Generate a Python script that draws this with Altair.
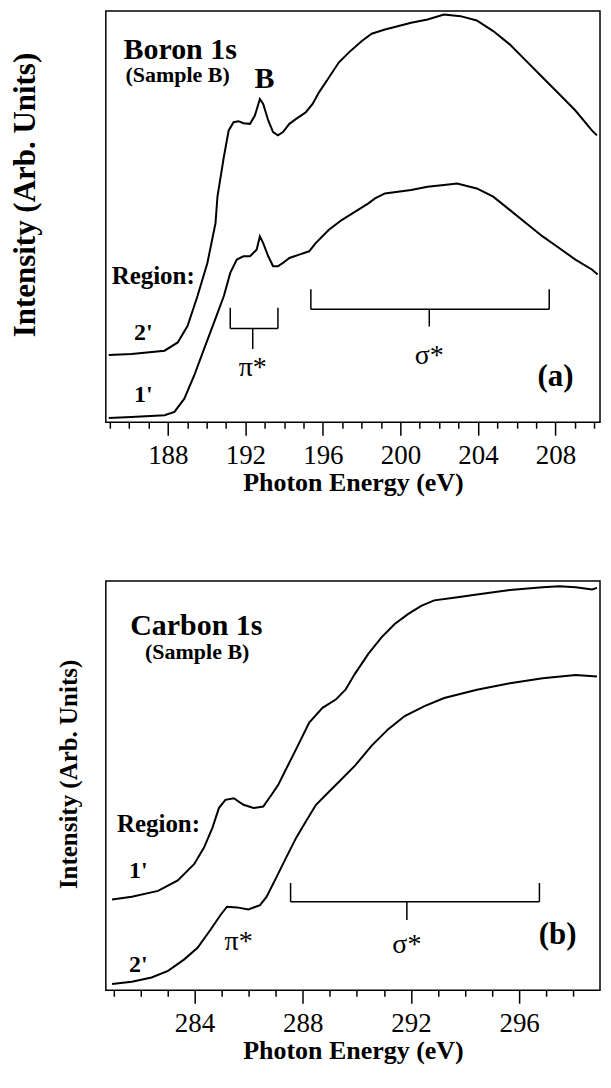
import altair as alt
import pandas as pd

SERIF = "Liberation Serif"

# ---------------- Panel (a): Boron 1s ----------------
b_reg2_energy = [184.95, 186.13, 187.83, 188.51, 189.02, 189.53, 190.04, 190.46, 190.56, 190.89,
                 191.14, 191.39, 191.65, 191.90, 192.24, 192.49, 192.75, 192.92, 193.18, 193.43,
                 193.68, 193.94, 194.27, 194.62, 195.12, 195.47, 195.80, 196.31, 196.82, 197.33,
                 198.01, 198.52, 199.20, 199.71, 200.55, 201.40, 202.25, 203.10, 203.94, 204.79,
                 205.64, 206.49, 207.34, 208.19, 209.03, 209.88, 210.14]
b_reg2_intensity = [67.7, 68.7, 72, 80.3, 97, 127, 160.3, 200.3, 227, 267,
                    293.7, 302, 303, 301, 300.3, 308.7, 325.3, 320.3, 303.7, 292,
                    288.7, 292, 300.3, 305.3, 312, 320.3, 332, 347, 362, 372,
                    383.7, 391, 395.3, 397.7, 402, 405.3, 410.3, 408.7, 404.3, 393.7,
                    380.3, 363.7, 347, 330.3, 313.7, 293.7, 288.7]
b_reg1_energy = [184.95, 186.13, 187.83, 188.34, 188.85, 189.36, 189.87, 190.38, 190.89, 191.22,
                 191.56, 191.90, 192.24, 192.58, 192.75, 192.92, 193.18, 193.43, 193.68, 193.94,
                 194.27, 194.78, 195.29, 195.63, 196.31, 196.99, 197.67, 198.35, 198.69, 199.20,
                 200.55, 201.40, 202.25, 202.93, 203.94, 204.79, 205.64, 206.49, 207.34, 208.19,
                 209.03, 209.88, 210.18]
b_reg1_intensity = [4.3, 5.3, 7, 10.3, 23.7, 47, 73.7, 100.3, 127, 150.3,
                    163.7, 167, 167, 173.7, 187, 180.3, 167, 157, 157, 160.3,
                    165.3, 168.7, 172, 180.3, 193.7, 203.7, 212, 220.3, 225.3, 230.3,
                    233.7, 237, 238.7, 240.3, 235.3, 227, 213.7, 200.3, 187, 175.3,
                    163.7, 153.7, 148.7]
b_domain = [184.8, 210.3]
b_ticks = [185.0 + 0.5 * i for i in range(51)]

# ---------------- Panel (b): Carbon 1s ----------------
c_reg1_energy = [280.95, 281.68, 282.65, 283.38, 283.99, 284.35, 284.66, 284.90, 285.14, 285.45,
                 285.81, 286.18, 286.54, 286.84, 287.09, 287.27, 287.76, 288.24, 288.73, 289.22,
                 289.58, 289.94, 290.43, 290.92, 291.40, 291.89, 292.38, 292.86, 293.59, 294.44,
                 295.66, 296.87, 297.48, 298.09, 298.70, 298.88]
c_reg1_intensity = [92, 94.7, 100.7, 111.3, 128, 144.7, 164.7, 184.7, 193, 194.7,
                    188, 184.7, 186.3, 198, 208, 218, 244.7, 271.3, 286.3, 294.7,
                    304.7, 321.3, 341.3, 358, 371.3, 381.3, 389.7, 395.3, 398, 401.3,
                    405.7, 408.7, 409.7, 408.7, 406.3, 408]
c_reg2_energy = [280.95, 281.68, 282.41, 283.02, 283.62, 284.11, 284.59, 284.96, 285.20, 285.57,
                 285.99, 286.42, 286.66, 287.03, 287.39, 287.76, 288.12, 288.49, 288.97, 289.34,
                 289.94, 290.55, 291.16, 291.77, 292.50, 293.23, 294.44, 295.66, 296.87, 298.09,
                 298.88]
c_reg2_intensity = [6.3, 8.7, 13, 19.7, 31.3, 43, 61.3, 76.3, 84.7, 84,
                    82, 86.3, 94.7, 114.7, 134.7, 154.7, 171.3, 188, 201.3, 211.3,
                    228, 248, 264.7, 278, 288, 296.3, 304.7, 311.3, 316.3, 319.7,
                    318]
c_domain = [280.72, 298.99]
c_ticks = [281.0 + 0.5 * i for i in range(36)]

# brackets: left, right, stem, bar level, arm top, stem bottom
b_pi_bracket = [191.22, 193.68, 192.38, 94.3, 115.3, 73.7]
b_sigma_bracket = [195.38, 207.68, 201.49, 113.7, 133.7, 96.3]
c_sigma_bracket = [287.55, 296.75, 291.85, 89.7, 108.7, 71.3]

# annotations: (text, energy, intensity)
b_big = [("Boron 1s", 185.71, 375)]
b_sample = [("(Sample B)", 185.81, 349)]
b_peak = [("B", 192.99, 345)]
b_region = [("Region:", 185.10, 147)]
b_labels = [("2'", 186.73, 90), ("1'", 186.73, 27)]
b_orbitals = [("π*", 192.38, 55), ("σ*", 201.49, 67)]
b_panel = [("(a)", 208.0, 45)]

c_big = [("Carbon 1s", 281.62, 369)]
c_sample = [("(Sample B)", 282.17, 343)]
c_region = [("Region:", 281.13, 169)]
c_labels = [("1'", 281.92, 121), ("2'", 281.92, 26)]
c_orbitals = [("π*", 285.63, 49), ("σ*", 291.85, 46.3)]
c_panel = [("(b)", 297.42, 56.3)]

y_title = "Intensity (Arb. Units)"
x_title = "Photon Energy (eV)"


def bracket_df(b):
    left, right, stem, bar, top, bottom = b
    return pd.DataFrame([
        dict(e=left, e2=right, i=bar, i2=bar),
        dict(e=left, e2=left, i=bar, i2=top),
        dict(e=right, e2=right, i=bar, i2=top),
        dict(e=stem, e2=stem, i=bar, i2=bottom),
    ])


def text_layer(items, size, weight, align):
    df = pd.DataFrame(items, columns=["label", "energy", "intensity"])
    return alt.Chart(df).mark_text(
        font=SERIF, fontSize=size, fontWeight=weight, align=align,
        baseline="middle", color="black"
    ).encode(x="energy:Q", y="intensity:Q", text="label:N")


def panel(curves, domain, ticks, ydom, width, height, ytitle_size, ytitle_x, ytitle_top,
          brackets, texts):
    rows = []
    for name, es, ins in curves:
        for e, v in zip(es, ins):
            rows.append(dict(region=name, energy=e, intensity=v))
    df = pd.DataFrame(rows)
    xaxis = alt.Axis(
        values=ticks, tickCount=len(ticks) + 5, format="d",
        tickSize={"condition": {"test": "datum.value % 4 === 0", "value": 13}, "value": 6},
        tickColor="black", tickWidth=1.5,
        labelExpr="datum.value % 4 === 0 ? datum.label : ''",
        labelFont=SERIF, labelFontSize=27, labelColor="black",
        labelPadding=7, labelOverlap=False, labelFlush=False,
        domain=False, grid=False,
        title=x_title, titleFont=SERIF, titleFontSize=26,
        titleFontWeight="bold", titleColor="black", titlePadding=1,
    )
    lines = alt.Chart(df).mark_line(color="black", strokeWidth=2).encode(
        x=alt.X("energy:Q", scale=alt.Scale(domain=domain, nice=False, zero=False), axis=xaxis),
        y=alt.Y("intensity:Q", scale=alt.Scale(domain=ydom, nice=False, zero=False), axis=None),
        detail="region:N",
    )
    layers = [lines]
    for b in brackets:
        layers.append(
            alt.Chart(bracket_df(b)).mark_rule(color="black", strokeWidth=1.5).encode(
                x="e:Q", x2="e2:Q", y="i:Q", y2="i2:Q"
            )
        )
    layers += texts
    # vertical axis title, anchored at its upper end
    layers.append(
        alt.Chart(pd.DataFrame({"t": [y_title]})).mark_text(
            font=SERIF, fontSize=ytitle_size, fontWeight="bold", angle=270,
            align="right", baseline="middle", color="black"
        ).encode(x=alt.value(ytitle_x), y=alt.value(ytitle_top), text="t:N")
    )
    return alt.layer(*layers).properties(width=width, height=height)


top = panel(
    [("2'", b_reg2_energy, b_reg2_intensity), ("1'", b_reg1_energy, b_reg1_intensity)],
    b_domain, b_ticks, [0, 414], 495, 412, 31, -80, 42,
    [b_pi_bracket, b_sigma_bracket],
    [
        text_layer(b_big, 30, "bold", "left"),
        text_layer(b_sample, 22, "bold", "left"),
        text_layer(b_peak, 30, "bold", "center"),
        text_layer(b_region, 25, "bold", "left"),
        text_layer(b_labels, 24, "bold", "center"),
        text_layer(b_orbitals, 28, "normal", "center"),
        text_layer(b_panel, 31, "bold", "center"),
    ],
)

bottom = panel(
    [("1'", c_reg1_energy, c_reg1_intensity), ("2'", c_reg2_energy, c_reg2_intensity)],
    c_domain, c_ticks, [0, 415], 495, 410, 25, -37, 79,
    [c_sigma_bracket],
    [
        text_layer(c_big, 30, "bold", "left"),
        text_layer(c_sample, 22, "bold", "left"),
        text_layer(c_region, 25, "bold", "left"),
        text_layer(c_labels, 24, "bold", "center"),
        text_layer(c_orbitals, 28, "normal", "center"),
        text_layer(c_panel, 31, "bold", "center"),
    ],
)

chart = alt.vconcat(top, bottom, spacing=84).resolve_scale(
    x="independent", y="independent"
).properties(
    padding={"left": 1, "top": 0, "right": 0, "bottom": 2}
).configure_view(stroke="black", strokeWidth=1.5)

chart.save("out.html", embed_options={"renderer": "svg", "actions": False})
